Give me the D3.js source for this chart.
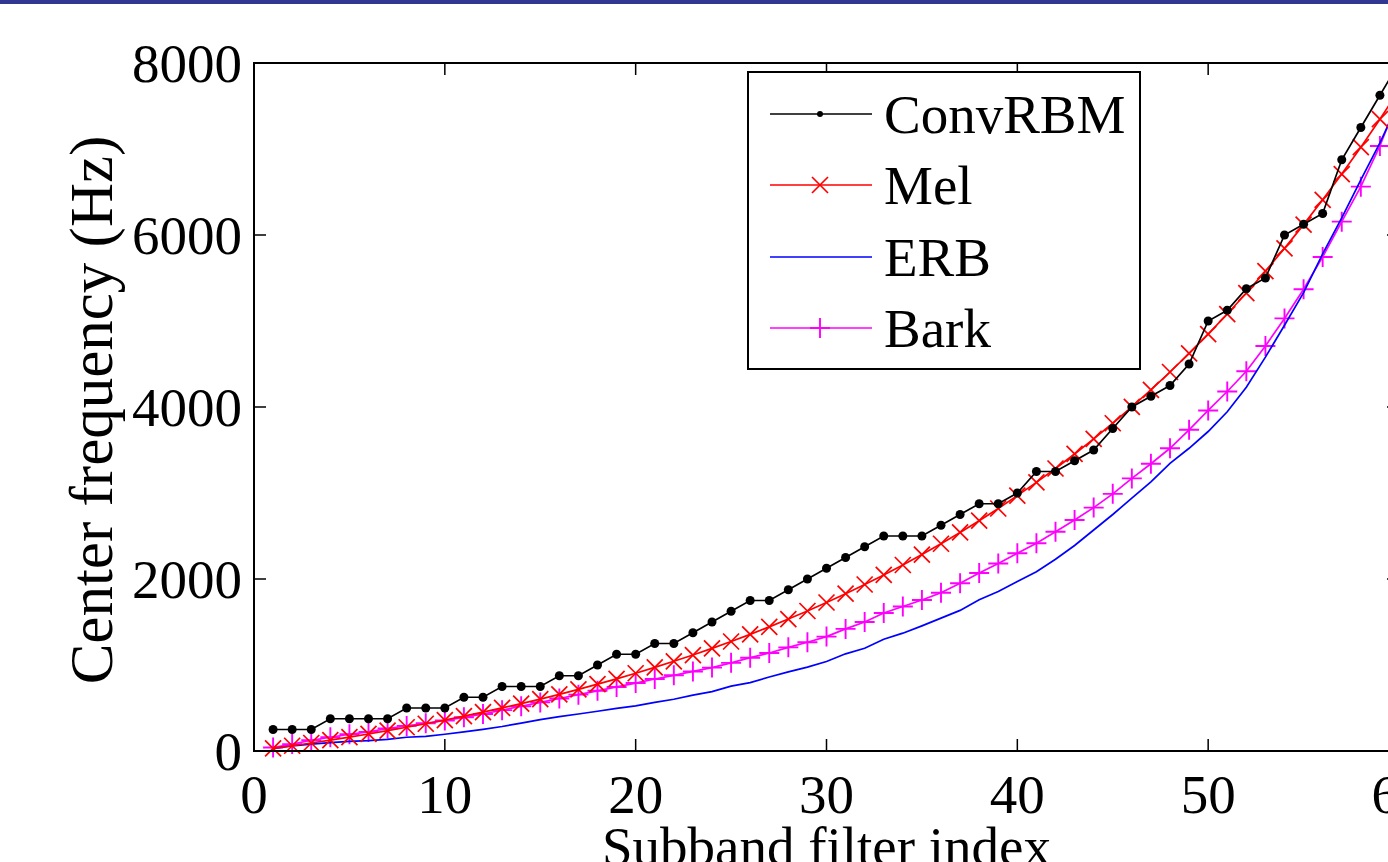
<!DOCTYPE html>
<html>

<head>
    <meta charset='utf-8'>
    <title>Subband center frequencies</title>
    <script type='text/javascript' src='https://cdn.jsdelivr.net/npm/d3@7/dist/d3.min.js'></script>
    <style>
        body { margin: 0; background: #fff; }
        svg { display: block; }
        text { font-family: 'Liberation Serif', 'Times New Roman', serif; fill: #000; }
    </style>
</head>

<body>
    <svg width='1388px' height='862px'></svg>
    <script type='text/javascript'>

        // subband filter index 1..60
        const filterIndex = d3.range(1, 61)

        const convRBM = [250, 250, 250, 375, 375, 375, 375, 500, 500, 500,
            625, 625, 750, 750, 750, 875, 875, 1000, 1125, 1125,
            1250, 1250, 1375, 1500, 1625, 1750, 1750, 1875, 2000, 2125,
            2250, 2375, 2500, 2500, 2500, 2625, 2750, 2875, 2875, 3000,
            3250, 3250, 3375, 3500, 3750, 4000, 4125, 4250, 4500, 5000,
            5125, 5375, 5500, 6000, 6125, 6250, 6875, 7250, 7625, 8000]

        const mel = [30, 61, 93, 127, 162, 198, 236, 276, 317, 360,
            405, 452, 501, 551, 604, 659, 717, 777, 839, 904,
            972, 1043, 1116, 1193, 1273, 1356, 1443, 1534, 1628, 1727,
            1829, 1936, 2047, 2163, 2284, 2410, 2541, 2678, 2820, 2969,
            3124, 3285, 3454, 3629, 3811, 4002, 4200, 4407, 4623, 4847,
            5081, 5325, 5580, 5845, 6121, 6409, 6709, 7021, 7347, 7686]

        const erb = [30, 58, 80, 97, 113, 120, 135, 160, 170, 195,
            222, 252, 285, 325, 365, 400, 430, 462, 495, 525,
            565, 602, 650, 690, 755, 795, 860, 920, 975, 1040,
            1130, 1195, 1300, 1370, 1455, 1545, 1635, 1760, 1855, 1970,
            2085, 2230, 2390, 2570, 2750, 2940, 3130, 3345, 3520, 3715,
            3945, 4230, 4580, 4950, 5330, 5780, 6200, 6640, 7070, 7550]

        const bark = [40, 80, 125, 160, 195, 222, 262, 292, 322, 355,
            392, 430, 475, 520, 565, 610, 655, 700, 745, 790,
            837, 880, 925, 970, 1025, 1085, 1140, 1205, 1265, 1330,
            1420, 1500, 1605, 1680, 1756, 1840, 1950, 2070, 2180, 2300,
            2415, 2550, 2686, 2830, 2990, 3170, 3340, 3520, 3735, 3960,
            4180, 4415, 4710, 5030, 5370, 5745, 6155, 6562, 7035, 7600]

        const seriesNames = ['ConvRBM', 'Mel', 'ERB', 'Bark']
        const seriesValues = [convRBM, mel, erb, bark]
        const seriesColors = ['#000000', '#ff0000', '#0000ff', '#ff00ff']
        const seriesMarkers = ['dot', 'cross', 'none', 'plus']

        const xTicks = [0, 10, 20, 30, 40, 50, 60]
        const yTicks = [0, 2000, 4000, 6000, 8000]

        const svg = d3.select('svg')
        const margin = { top: 63, left: 254, bottom: 111, right: -11 }
        const width = parseInt(svg.attr('width'))
        const height = parseInt(svg.attr('height'))

        const x = d3.scaleLinear().domain([0, 60]).range([margin.left, width - margin.right])
        const y = d3.scaleLinear().domain([0, 8000]).range([height - margin.bottom, margin.top])

        // dark band along the very top
        svg.append('rect')
            .attr('x', 0).attr('y', 0)
            .attr('width', width).attr('height', 4)
            .attr('fill', '#32378f')

        const series = seriesNames.map((name, i) => ({
            name: name,
            color: seriesColors[i],
            marker: seriesMarkers[i],
            points: filterIndex.map((k, j) => ({ k: k, v: seriesValues[i][j] }))
        }))

        const line = d3.line().x(d => x(d.k)).y(d => y(d.v))

        // draw order: Bark under ERB under Mel under ConvRBM
        const drawOrder = [3, 2, 1, 0]
        const plot = svg.append('g')

        function drawMarker(g, kind, color) {
            if (kind === 'dot') {
                g.append('circle').attr('r', 4.5).attr('fill', color)
            } else if (kind === 'cross') {
                g.append('path').attr('d', 'M-8,-8L8,8M-8,8L8,-8')
                    .attr('stroke', color).attr('stroke-width', 1.7).attr('fill', 'none')
            } else if (kind === 'plus') {
                g.append('path').attr('d', 'M-10,0L10,0M0,-10L0,10')
                    .attr('stroke', color).attr('stroke-width', 1.9).attr('fill', 'none')
            }
        }

        drawOrder.forEach(i => {
            const s = series[i]
            plot.append('path')
                .datum(s.points)
                .attr('d', line)
                .attr('fill', 'none')
                .attr('stroke', s.color)
                .attr('stroke-width', 1.7)
            if (s.marker !== 'none') {
                plot.append('g').selectAll('g')
                    .data(s.points)
                    .join('g')
                    .attr('transform', d => `translate(${x(d.k)},${y(d.v)})`)
                    .each(function () { drawMarker(d3.select(this), s.marker, s.color) })
            }
        })

        // axes box with inward ticks on all sides
        const x0 = x(0), x1 = x(60), y0 = y(0), y1 = y(8000)
        const tickLen = 12
        const axes = svg.append('g').attr('stroke', '#000').attr('stroke-width', 1.5)

        axes.selectAll('.xt').data(xTicks).join('path')
            .attr('d', d => `M${x(d)},${y0}V${y0 - tickLen}M${x(d)},${y1}V${y1 + tickLen}`)
        axes.selectAll('.yt').data(yTicks).join('path')
            .attr('d', d => `M${x0},${y(d)}H${x0 + tickLen}M${x1},${y(d)}H${x1 - tickLen}`)

        svg.append('rect')
            .attr('x', x0).attr('y', y1)
            .attr('width', x1 - x0).attr('height', y0 - y1)
            .attr('fill', 'none').attr('stroke', '#000').attr('stroke-width', 2)

        svg.append('g').selectAll('text')
            .data(xTicks).join('text')
            .attr('x', d => x(d))
            .attr('y', y0 + 62)
            .attr('text-anchor', 'middle')
            .attr('font-size', 55)
            .text(d => d)

        svg.append('g').selectAll('text')
            .data(yTicks).join('text')
            .attr('x', x0 - 12)
            .attr('y', d => y(d) + 19)
            .attr('text-anchor', 'end')
            .attr('font-size', 55)
            .text(d => d)

        svg.append('text')
            .attr('x', (x0 + x1) / 2)
            .attr('y', y0 + 114)
            .attr('text-anchor', 'middle')
            .attr('font-size', 55)
            .text('Subband filter index')

        svg.append('text')
            .attr('transform', `translate(112,${(y0 + y1) / 2 + 3}) rotate(-90)`)
            .attr('text-anchor', 'middle')
            .attr('font-size', 61)
            .text('Center frequency (Hz)')

        // legend
        const legend = svg.append('g').attr('transform', 'translate(748,72)')
        legend.append('rect')
            .attr('width', 392).attr('height', 297)
            .attr('fill', '#fff').attr('stroke', '#000').attr('stroke-width', 2)

        const rowY = [42, 113, 185, 256]
        series.forEach((s, i) => {
            const row = legend.append('g').attr('transform', `translate(0,${rowY[i]})`)
            row.append('line')
                .attr('x1', 22).attr('x2', 124)
                .attr('stroke', s.color).attr('stroke-width', 1.6)
            const m = row.append('g').attr('transform', 'translate(72,0)')
            if (s.marker === 'dot') {
                m.append('circle').attr('r', 3).attr('fill', s.color)
            } else {
                drawMarker(m, s.marker, s.color)
            }
            row.append('text')
                .attr('x', 136)
                .attr('y', 19)
                .attr('font-size', 55)
                .text(s.name)
        })
    </script>
</body>

</html>
